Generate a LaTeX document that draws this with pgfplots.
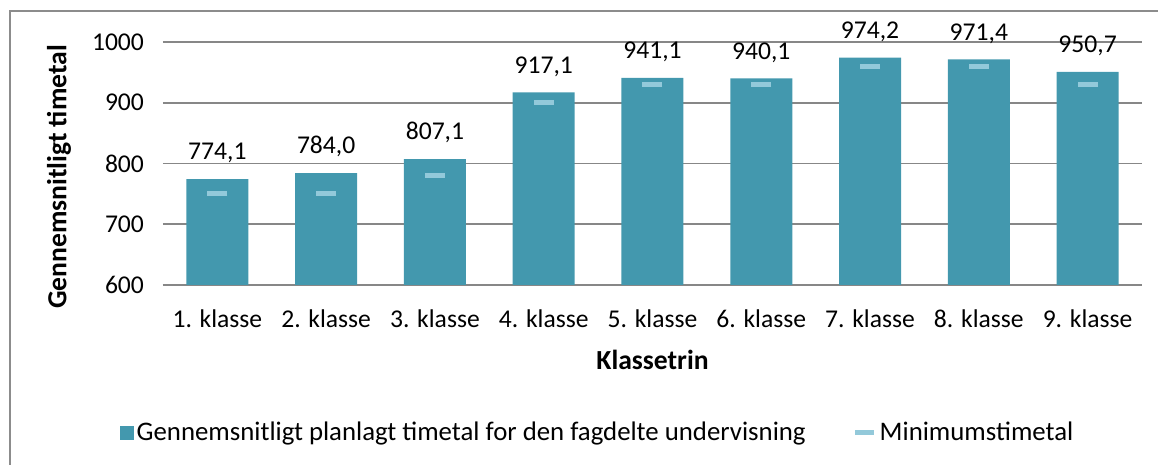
\documentclass[border=0pt]{standalone}
\usepackage{pgfplots}
\pgfplotsset{compat=1.18}
\usepackage{fontspec}
\setmainfont{Carlito}
\definecolor{barcol}{HTML}{4398AE}
\definecolor{mincol}{HTML}{93C9DA}
\definecolor{gridcol}{HTML}{878787}
\definecolor{framecol}{HTML}{8C8C8C}
\begin{document}
\begin{tikzpicture}
\path[use as bounding box] (-81.5pt,-90pt) rectangle (497.5pt,142.5pt);
\draw[framecol, line width=0.8pt] (-76.5pt,-95pt) -- (-76.5pt,137pt) -- (505pt,137pt);
\begin{axis}[
  scale only axis,
  width=489.5pt, height=121.5pt,
  xmin=-0.5, xmax=8.5, ymin=600, ymax=1000,
  ytick={600,700,800,900,1000},
  xtick={0,...,8},
  xticklabels={1. klasse,2. klasse,3. klasse,4. klasse,5. klasse,6. klasse,7. klasse,8. klasse,9. klasse},
  major tick length=0pt,
  axis x line*=bottom, axis y line*=left,
  x axis line style={gridcol, line width=0.9pt, -},
  y axis line style={draw=none},
  ymajorgrids, grid style={gridcol, line width=0.9pt},
  tick label style={font=\fontsize{12.8}{15}\selectfont, /pgf/number format/assume math mode=true},
  yticklabel style={xshift=-6pt, /pgf/number format/set thousands separator={}},
  xticklabel style={yshift=-9pt},
  ylabel={\textbf{Gennemsnitligt timetal}},
  ylabel style={font=\fontsize{13.8}{16}\selectfont, at={(-52pt,54pt)}, anchor=center},
  xlabel={\textbf{Klassetrin}},
  xlabel style={font=\fontsize{13.8}{16}\selectfont, at={(244.75pt,-37.5pt)}, anchor=center},
  legend style={at={(217.5pt,-74pt)}, anchor=center, draw=none, fill=none,
    font=\fontsize{13.4}{16}\selectfont, legend columns=2, nodes={inner xsep=1.5pt},
    /tikz/every even column/.append style={column sep=22pt}},
  legend cell align=left,
]
\addplot[ybar, bar width=31pt, fill=barcol, draw=none,
  nodes near coords,
  nodes near coords style={font=\fontsize{12.8}{15}\selectfont, text=black, anchor=south, yshift=4.5pt,
    /pgf/number format/.cd, fixed, fixed zerofill, precision=1, use comma, assume math mode=true},
  legend image code/.code={\fill[barcol] (0pt,-3.5pt) rectangle (7pt,3.5pt);}]
  coordinates {(0,774.1) (1,784.0) (2,807.1) (3,917.1) (4,941.1) (5,940.1) (6,974.2) (7,971.4) (8,950.7)};
\addlegendentry{Gennemsnitligt planlagt timetal for den fagdelte undervisning}
\addplot[only marks, mark=-, mark size=5pt, mark options={line width=2.5pt, color=mincol}, color=mincol,
  legend image code/.code={\draw[mincol, line width=2.5pt] (0pt,0pt) -- (9.5pt,0pt);}]
  coordinates {(0,750) (1,750) (2,780) (3,900) (4,930) (5,930) (6,960) (7,960) (8,930)};
\addlegendentry{Minimumstimetal}
\end{axis}
\end{tikzpicture}
\end{document}
